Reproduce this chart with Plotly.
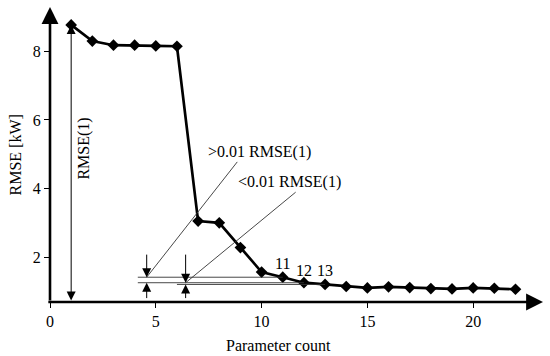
import plotly.graph_objects as go

# ---- data ----
params = list(range(1, 23))
rmse = [8.76, 8.29, 8.17, 8.17, 8.15, 8.14, 3.06, 3.01, 2.29, 1.58, 1.43,
        1.27, 1.22, 1.16, 1.12, 1.15, 1.13, 1.10, 1.09, 1.12, 1.11, 1.08]
x_ticks = [0, 5, 10, 15, 20]
y_ticks = [2, 4, 6, 8]
labeled_params = [11, 12, 13]
text_gt = ">0.01 RMSE(1)"
text_lt = "<0.01 RMSE(1)"
text_rmse1 = "RMSE(1)"
x_title = "Parameter count"
y_title = "RMSE [kW]"

FONT = "Liberation Serif"
XMIN, XMAX = 0, 23.3
YMIN, YMAX = 0.71, 9.28

fig = go.Figure()
fig.add_trace(go.Scatter(
    x=params, y=rmse, mode="lines+markers",
    line=dict(color="black", width=2.7),
    marker=dict(symbol="diamond", size=9, color="black"),
    showlegend=False, cliponaxis=False))

r = dict(zip(params, rmse))
thin = dict(color="#333333", width=0.9)

# horizontal reference lines
fig.add_shape(type="line", x0=4.15, x1=11, y0=r[11], y1=r[11], line=thin)
fig.add_shape(type="line", x0=4.15, x1=12, y0=r[12], y1=r[12], line=thin)
fig.add_shape(type="line", x0=6.0, x1=13, y0=r[13], y1=r[13], line=thin)

# leader lines
fig.add_shape(type="line", x0=4.57, y0=r[11], x1=8.85, y1=4.78, line=thin)
fig.add_shape(type="line", x0=6.41, y0=r[12], x1=11.61, y1=3.90, line=thin)

ann = []

def arrow(x0, y0, x1, y1, width=1.0, size=1.6, head=2, side="end"):
    ann.append(dict(x=x1, y=y1, ax=x0, ay=y0, xref="x", yref="y",
                    axref="x", ayref="y", text="", showarrow=True,
                    arrowhead=head, arrowsize=size, arrowwidth=width,
                    arrowcolor="black", arrowside=side, standoff=0,
                    startstandoff=0, startarrowhead=head, startarrowsize=size))

# dimension marks
for xm, top, bot in [(4.57, r[11], r[12]), (6.41, r[12], r[13])]:
    arrow(xm, 2.13, xm, top, width=1.0, size=1.8, head=2)
    arrow(xm, 0.78, xm, bot, width=1.0, size=1.8, head=2)

# RMSE(1) double arrow
arrow(1, YMIN, 1, r[1], width=1.0, size=1.8, head=2, side="end+start")

# axes with arrows
arrow(XMIN - 0.15, YMIN, XMAX, YMIN, width=2.6, size=1.3)
arrow(XMIN, YMIN, XMIN, YMAX, width=2.6, size=1.3)

tf = dict(family=FONT, size=16, color="black")
ann.append(dict(x=7.35, y=5.06, xref="x", yref="y", text=text_gt,
                showarrow=False, xanchor="left", yanchor="middle", font=tf))
ann.append(dict(x=8.77, y=4.19, xref="x", yref="y", text=text_lt,
                showarrow=False, xanchor="left", yanchor="middle", font=tf))
ann.append(dict(x=1.61, y=5.17, xref="x", yref="y", text=text_rmse1,
                showarrow=False, textangle=-90, font=tf))
for p, dy in zip(labeled_params, [0.41, 0.36, 0.41]):
    ann.append(dict(x=p, y=r[p] + dy, xref="x", yref="y", text=str(p),
                    showarrow=False, font=tf))

ann.append(dict(x=10.79, y=-0.147, xref="x", yref="paper", text=x_title,
                showarrow=False, font=tf, yanchor="middle"))
ann.append(dict(x=-0.069, y=0.5, xref="paper", yref="paper", text=y_title,
                showarrow=False, font=tf, textangle=-90, xanchor="center"))

fig.update_layout(
    width=550, height=356,
    margin=dict(l=50, r=7.4, t=6.9, b=54.3),
    paper_bgcolor="white", plot_bgcolor="white",
    annotations=ann,
    xaxis=dict(range=[XMIN, XMAX], tickvals=x_ticks, ticks="outside",
               ticklen=5, tickwidth=1.3, tickcolor="black", showgrid=False,
               zeroline=False, showline=False,
               tickfont=dict(family=FONT, size=16, color="black")),
    yaxis=dict(range=[YMIN, YMAX], tickvals=y_ticks, ticks="outside",
               ticklen=5, tickwidth=1.3, tickcolor="black", showgrid=False,
               zeroline=False, showline=False,
               tickfont=dict(family=FONT, size=16, color="black")),
)

fig.write_html("out.html", config={"displayModeBar": False},
               post_script="document.body.style.margin='0px';"
                           "document.body.style.padding='0px';")
